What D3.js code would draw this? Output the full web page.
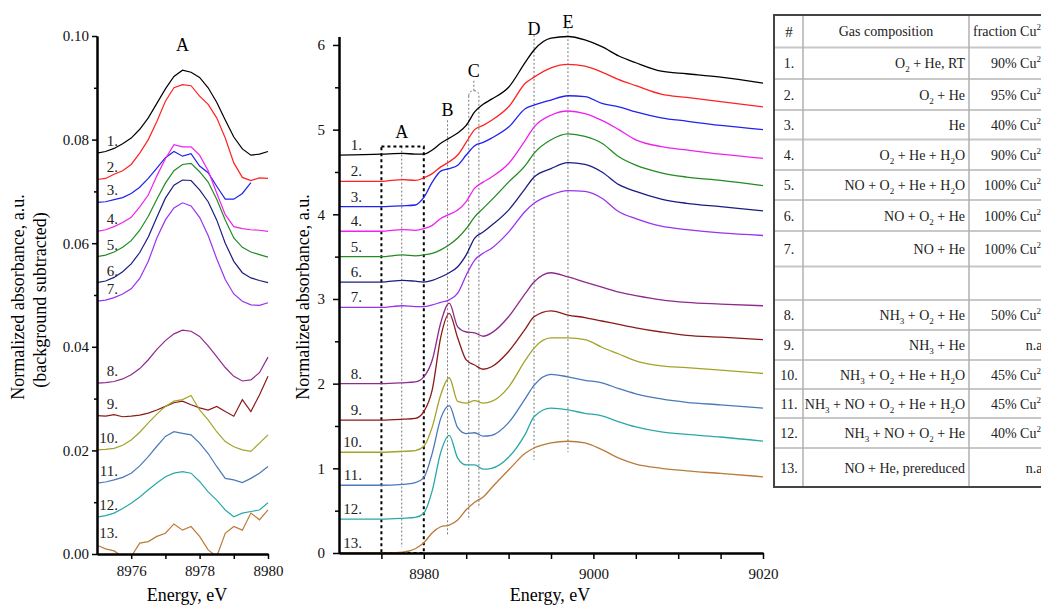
<!DOCTYPE html>
<html>
<head>
<meta charset="utf-8">
<script src="https://cdn.jsdelivr.net/npm/d3@7"></script>
<style>
body { margin: 0; background: #fff; }
svg { display: block; font-family: "Liberation Serif", "Times New Roman", serif; }
text { white-space: pre; }
</style>
</head>
<body>
<script>
var W = 1041, H = 606;

// ---- data ----
var curveNames = ["1.", "2.", "3.", "4.", "5.", "6.", "7.", "8.", "9.", "10.", "11.", "12.", "13."];
var colors = ["#000000", "#ff2222", "#2222ee", "#ee22ee", "#228b22", "#1c1c80", "#9933ee",
              "#8e2a8e", "#8b1a1a", "#a3a32a", "#4a78b8", "#2aa8a8", "#bb7a3a"];

// full XANES spectra (middle panel)
var energyFull = [8970, 8975, 8977.5, 8979, 8980, 8981, 8982, 8983, 8984, 8985, 8986, 8987, 8988,
                  8990, 8992, 8993, 8995, 8997, 8999, 9001, 9003, 9005, 9008, 9011, 9015, 9020];
var full1  = [4.70, 4.71, 4.72, 4.71, 4.71, 4.76, 4.84, 4.90, 4.96, 5.05, 5.21, 5.30, 5.36, 5.50, 5.80, 5.94, 6.08, 6.10, 6.06, 5.98, 5.87, 5.79, 5.69, 5.66, 5.62, 5.55];
var full2  = [4.39, 4.39, 4.41, 4.40, 4.43, 4.48, 4.56, 4.62, 4.70, 4.85, 5.00, 5.05, 5.11, 5.27, 5.55, 5.62, 5.73, 5.77, 5.75, 5.68, 5.59, 5.52, 5.42, 5.38, 5.33, 5.27];
var full3  = [4.09, 4.09, 4.10, 4.11, 4.20, 4.38, 4.51, 4.54, 4.58, 4.70, 4.81, 4.85, 4.90, 5.03, 5.25, 5.29, 5.35, 5.40, 5.39, 5.31, 5.27, 5.21, 5.14, 5.10, 5.05, 5.00];
var full4  = [3.80, 3.80, 3.82, 3.81, 3.83, 3.87, 3.95, 4.00, 4.05, 4.15, 4.31, 4.38, 4.44, 4.60, 4.88, 5.03, 5.17, 5.22, 5.19, 5.11, 5.00, 4.88, 4.80, 4.76, 4.71, 4.66];
var full5  = [3.50, 3.50, 3.52, 3.51, 3.52, 3.54, 3.58, 3.64, 3.72, 3.83, 3.97, 4.07, 4.17, 4.38, 4.58, 4.72, 4.88, 4.95, 4.92, 4.84, 4.68, 4.58, 4.49, 4.44, 4.40, 4.34];
var full6  = [3.20, 3.20, 3.22, 3.21, 3.20, 3.22, 3.26, 3.31, 3.38, 3.52, 3.72, 3.79, 3.87, 4.05, 4.31, 4.44, 4.54, 4.61, 4.59, 4.50, 4.35, 4.27, 4.18, 4.13, 4.09, 4.04];
var full7  = [2.90, 2.90, 2.92, 2.91, 2.91, 2.93, 2.96, 2.99, 3.07, 3.28, 3.46, 3.54, 3.60, 3.79, 4.04, 4.13, 4.23, 4.28, 4.27, 4.19, 4.03, 3.95, 3.86, 3.82, 3.78, 3.75];
var full8  = [2.00, 2.00, 2.01, 2.02, 2.08, 2.28, 2.72, 2.95, 2.67, 2.61, 2.60, 2.56, 2.60, 2.79, 3.07, 3.20, 3.31, 3.26, 3.20, 3.14, 3.08, 3.04, 2.99, 2.96, 2.94, 2.92];
var full9  = [1.57, 1.57, 1.58, 1.59, 1.67, 1.93, 2.55, 2.83, 2.54, 2.28, 2.22, 2.17, 2.20, 2.38, 2.65, 2.79, 2.86, 2.81, 2.78, 2.74, 2.70, 2.66, 2.61, 2.57, 2.55, 2.52];
var full10 = [1.19, 1.19, 1.20, 1.21, 1.26, 1.49, 1.87, 2.07, 1.79, 1.77, 1.80, 1.77, 1.79, 1.96, 2.28, 2.42, 2.54, 2.54, 2.52, 2.43, 2.35, 2.27, 2.21, 2.19, 2.16, 2.12];
var full11 = [0.80, 0.80, 0.81, 0.83, 0.89, 1.18, 1.59, 1.74, 1.48, 1.41, 1.42, 1.38, 1.39, 1.54, 1.83, 1.98, 2.11, 2.08, 2.04, 2.01, 1.94, 1.88, 1.82, 1.78, 1.75, 1.71];
var full12 = [0.40, 0.40, 0.41, 0.42, 0.47, 0.74, 1.19, 1.39, 1.12, 1.04, 1.04, 0.99, 1.00, 1.13, 1.41, 1.61, 1.71, 1.69, 1.65, 1.62, 1.55, 1.49, 1.43, 1.40, 1.37, 1.32];
var full13 = [0.00, 0.00, 0.01, 0.05, 0.12, 0.24, 0.31, 0.33, 0.39, 0.51, 0.60, 0.66, 0.77, 0.98, 1.18, 1.24, 1.30, 1.32, 1.30, 1.22, 1.12, 1.05, 1.00, 0.97, 0.94, 0.90];
var fullSeries = [full1, full2, full3, full4, full5, full6, full7, full8, full9, full10, full11, full12, full13];

// pre-edge region, background subtracted (left panel)
var energyPre = [8975, 8975.25, 8975.5, 8975.75, 8976, 8976.25, 8976.5, 8976.75, 8977, 8977.25, 8977.5,
                 8977.75, 8978, 8978.25, 8978.5, 8978.75, 8979, 8979.25, 8979.5, 8979.75, 8980];
var pre1  = [0.0774, 0.0777, 0.0783, 0.0792, 0.0803, 0.0820, 0.0842, 0.0870, 0.0898, 0.0922, 0.0934, 0.0930, 0.0920, 0.0900, 0.0872, 0.0838, 0.0805, 0.0782, 0.0770, 0.0772, 0.0777];
var pre2  = [0.0723, 0.0725, 0.0733, 0.0740, 0.0752, 0.0774, 0.0800, 0.0835, 0.0874, 0.0900, 0.0906, 0.0904, 0.0884, 0.0868, 0.0842, 0.0803, 0.0755, 0.0727, 0.0721, 0.0726, 0.0725];
var pre3  = [0.0679, 0.0680, 0.0684, 0.0688, 0.0696, 0.0708, 0.0725, 0.0745, 0.0765, 0.0777, 0.0768, 0.0773, 0.0749, 0.0736, 0.0710, 0.0685, 0.0685, 0.0696, 0.0717, null, null];
var pre4  = [0.0623, 0.0626, 0.0632, 0.0640, 0.0650, 0.0670, 0.0693, 0.0730, 0.0763, 0.0790, 0.0786, 0.0786, 0.0770, 0.0740, 0.0697, 0.0655, 0.0632, 0.0628, 0.0626, 0.0625, 0.0623];
var pre5  = [0.0574, 0.0577, 0.0583, 0.0592, 0.0605, 0.0625, 0.0652, 0.0685, 0.0716, 0.0740, 0.0752, 0.0754, 0.0738, 0.0718, 0.0685, 0.0645, 0.0610, 0.0592, 0.0583, 0.0578, 0.0573];
var pre6  = [0.0524, 0.0527, 0.0534, 0.0545, 0.0560, 0.0582, 0.0612, 0.0650, 0.0687, 0.0712, 0.0722, 0.0721, 0.0703, 0.0680, 0.0645, 0.0600, 0.0565, 0.0543, 0.0533, 0.0528, 0.0524];
var pre7  = [0.0488, 0.0490, 0.0495, 0.0502, 0.0512, 0.0532, 0.0565, 0.0610, 0.0645, 0.0668, 0.0678, 0.0672, 0.0650, 0.0615, 0.0570, 0.0530, 0.0502, 0.0488, 0.0481, 0.0480, 0.0485];
var pre8  = [0.0330, 0.0331, 0.0333, 0.0338, 0.0346, 0.0358, 0.0375, 0.0395, 0.0412, 0.0425, 0.0432, 0.0430, 0.0420, 0.0402, 0.0381, 0.0360, 0.0343, 0.0334, 0.0336, 0.0350, 0.0380];
var pre9  = [0.0267, 0.0266, 0.0269, 0.0265, 0.0266, 0.0268, 0.0272, 0.0278, 0.0285, 0.0292, 0.0295, 0.0288, 0.0282, 0.0278, 0.0285, 0.0275, 0.0266, 0.0298, 0.0275, 0.0307, 0.0343];
var pre10 = [0.0201, 0.0202, 0.0204, 0.0210, 0.0220, 0.0235, 0.0253, 0.0270, 0.0285, 0.0295, 0.0298, 0.0306, 0.0278, 0.0259, 0.0236, 0.0217, 0.0207, 0.0201, 0.0198, 0.0214, 0.0230];
var pre11 = [0.0137, 0.0139, 0.0143, 0.0148, 0.0156, 0.0170, 0.0188, 0.0208, 0.0227, 0.0236, 0.0233, 0.0230, 0.0214, 0.0194, 0.0169, 0.0146, 0.0143, 0.0138, 0.0146, 0.0156, 0.0169];
var pre12 = [0.0071, 0.0074, 0.0079, 0.0088, 0.0098, 0.0110, 0.0124, 0.0137, 0.0149, 0.0156, 0.0159, 0.0156, 0.0140, 0.0120, 0.0104, 0.0085, 0.0072, 0.0079, 0.0082, 0.0085, 0.0099];
var pre13 = [0.0017, 0.0010, 0.0006, -0.0005, -0.0005, 0.0021, 0.0024, 0.0034, 0.0040, 0.0058, 0.0046, 0.0053, 0.0034, 0.0008, -0.0005, 0.0040, 0.0053, 0.0046, 0.0079, 0.0066, 0.0085];
var preSeries = [pre1, pre2, pre3, pre4, pre5, pre6, pre7, pre8, pre9, pre10, pre11, pre12, pre13];

// feature markers in the middle panel
var markNames = ["A", "B", "C", "D", "E"];
var markEnergy = [8977.4, 8982.8, 8985.9, 8993.0, 8997.0];
var markLabelValue = [4.97, 5.23, 5.70, 6.19, 6.28];
var guideEnergy = [8977.4, 8982.8, 8985.3, 8986.5, 8993.0, 8997.0];
var guideTop = [4.80, 5.11, 5.40, 5.40, 6.12, 6.21];
var guideBottom = [0.07, 0.21, 0.39, 0.53, 1.10, 1.19];
var boxA = [8975, 8980, 0, 4.8]; // energy from, to, value from, to

// table
var tableHeader = ["#", "Gas composition", "fraction Cu^2+"];
var rowNums = ["1.", "2.", "3.", "4.", "5.", "6.", "7.", "", "8.", "9.", "10.", "11.", "12.", "13."];
var gasComp = ["O_2 + He, RT", "O_2 + He", "He", "O_2 + He + H_2O", "NO + O_2 + He + H_2O", "NO + O_2 + He",
               "NO + He", "", "NH_3 + O_2 + He", "NH_3 + He", "NH_3 + O_2 + He + H_2O",
               "NH_3 + NO + O_2 + He + H_2O", "NH_3 + NO + O_2 + He", "NO + He, prereduced"];
var fractionCu = ["90% Cu^2+", "95% Cu^2+", "40% Cu^2+", "90% Cu^2+", "100% Cu^2+", "100% Cu^2+", "100% Cu^2+",
                  "", "50% Cu^2+", "n.a.", "45% Cu^2+", "45% Cu^2+", "40% Cu^2+", "n.a."];

// ---- drawing ----
var svg = d3.select("body").append("svg")
    .attr("width", W)
    .attr("height", H);

svg.append("rect").attr("width", W).attr("height", H).attr("fill", "#fff");

function styleAxis(g, size) {
    g.attr("font-family", null).attr("font-size", size);
    g.selectAll("text").attr("fill", "#111");
    g.selectAll("line").attr("stroke", "#000").attr("stroke-width", 1.5);
    g.select(".domain").attr("stroke", "#000").attr("stroke-width", 2);
}

// left panel
var xL = d3.scaleLinear().domain([8975, 8980]).range([97, 268]);
var yL = d3.scaleLinear().domain([0, 0.10]).range([554, 36]);

svg.append("clipPath").attr("id", "clipL")
    .append("rect").attr("x", 97).attr("y", 30).attr("width", 175).attr("height", 524);

var lineL = d3.line()
    .defined(function (d) { return d[1] !== null; })
    .x(function (d) { return xL(d[0]); })
    .y(function (d) { return yL(d[1]); });

var gL = svg.append("g").attr("clip-path", "url(#clipL)");
preSeries.forEach(function (s, i) {
    gL.append("path")
        .datum(energyPre.map(function (e, j) { return [e, s[j]]; }))
        .attr("d", lineL)
        .attr("fill", "none")
        .attr("stroke", colors[i])
        .attr("stroke-width", 1.2);
});

svg.append("g")
    .attr("transform", "translate(97,0)")
    .call(d3.axisLeft(yL).tickValues([0.01, 0.03, 0.05, 0.07, 0.09]).tickSize(3).tickFormat("").tickSizeOuter(0))
    .call(styleAxis, 15);
svg.append("g")
    .attr("transform", "translate(97,0)")
    .call(d3.axisLeft(yL).tickValues([0, 0.02, 0.04, 0.06, 0.08, 0.10]).tickSize(5).tickPadding(3)
        .tickFormat(d3.format(".2f")).tickSizeOuter(0))
    .call(styleAxis, 15);
svg.append("g")
    .attr("transform", "translate(0,554)")
    .call(d3.axisBottom(xL).tickValues([8977, 8979]).tickSize(5).tickFormat("").tickSizeOuter(0))
    .call(styleAxis, 15);
svg.append("g")
    .attr("transform", "translate(0,554)")
    .call(d3.axisBottom(xL).tickValues([8976, 8978, 8980]).tickSize(5).tickPadding(6)
        .tickFormat(d3.format("d")).tickSizeOuter(0))
    .call(styleAxis, 15);

preSeries.forEach(function (s, i) {
    svg.append("text")
        .attr("x", xL(8975) + 21)
        .attr("y", yL(s[0]) - 7)
        .attr("text-anchor", "end")
        .attr("font-size", 15)
        .attr("fill", "#222")
        .text(curveNames[i]);
});

svg.append("text").attr("x", xL(8977.5)).attr("y", 51)
    .attr("text-anchor", "middle").attr("font-size", 18).text("A");

svg.append("text").attr("transform", "translate(24,297) rotate(-90)")
    .attr("text-anchor", "middle").attr("font-size", 18)
    .text("Normalized absorbance, a.u.");
svg.append("text").attr("transform", "translate(46,300) rotate(-90)")
    .attr("text-anchor", "middle").attr("font-size", 18)
    .text("(background subtracted)");
svg.append("text").attr("x", 187).attr("y", 601)
    .attr("text-anchor", "middle").attr("font-size", 18)
    .text("Energy, eV");

// middle panel
var xM = d3.scaleLinear().domain([8970, 9020]).range([339, 763]);
var yM = d3.scaleLinear().domain([0, 6.1]).range([553, 36.5]);

var lineM = d3.line()
    .x(function (d) { return xM(d[0]); })
    .y(function (d) { return yM(d[1]); })
    .curve(d3.curveMonotoneX);

// guide lines
var gGuide = svg.append("g")
    .attr("fill", "none")
    .attr("stroke", "#777")
    .attr("stroke-width", 1)
    .attr("stroke-dasharray", "2,2");
guideEnergy.forEach(function (e, i) {
    gGuide.append("line")
        .attr("x1", xM(e)).attr("x2", xM(e))
        .attr("y1", yM(guideTop[i])).attr("y2", yM(guideBottom[i]));
});
// bracket over the C pair
var cl = xM(guideEnergy[2]), cr = xM(guideEnergy[3]), ct = yM(guideTop[2]), cm = (cl + cr) / 2;
gGuide.append("path")
    .attr("d", "M" + cl + "," + ct + " Q" + cl + "," + (ct - 5) + " " + cm + "," + (ct - 5) +
        " Q" + cr + "," + (ct - 5) + " " + cr + "," + ct +
        " M" + cm + "," + (ct - 5) + " L" + cm + "," + (ct - 15));

// box around pre-edge A
svg.append("rect")
    .attr("x", xM(boxA[0]))
    .attr("y", yM(boxA[3]))
    .attr("width", xM(boxA[1]) - xM(boxA[0]))
    .attr("height", yM(boxA[2]) - yM(boxA[3]))
    .attr("fill", "none")
    .attr("stroke", "#000")
    .attr("stroke-width", 2)
    .attr("stroke-dasharray", "3,3");

fullSeries.forEach(function (s, i) {
    svg.append("path")
        .datum(energyFull.map(function (e, j) { return [e, s[j]]; }))
        .attr("d", lineM)
        .attr("fill", "none")
        .attr("stroke", colors[i])
        .attr("stroke-width", 1.3);
});

svg.append("g")
    .attr("transform", "translate(339,0)")
    .call(d3.axisLeft(yM).tickValues([0.5, 1.5, 2.5, 3.5, 4.5, 5.5]).tickSize(4).tickFormat("").tickSizeOuter(0))
    .call(styleAxis, 15);
svg.append("g")
    .attr("transform", "translate(339,0)")
    .call(d3.axisLeft(yM).tickValues([0, 1, 2, 3, 4, 5, 6]).tickSize(6).tickPadding(8)
        .tickFormat(d3.format("d")).tickSizeOuter(0))
    .call(styleAxis, 15);
svg.append("g")
    .attr("transform", "translate(0,553)")
    .call(d3.axisBottom(xM).tickValues([8975, 8985, 8990, 8995, 9005, 9010, 9015]).tickSize(6).tickFormat("").tickSizeOuter(0))
    .call(styleAxis, 15);
svg.append("g")
    .attr("transform", "translate(0,553)")
    .call(d3.axisBottom(xM).tickValues([8980, 9000, 9020]).tickSize(6).tickPadding(9)
        .tickFormat(d3.format("d")).tickSizeOuter(0))
    .call(styleAxis, 15);

fullSeries.forEach(function (s, i) {
    svg.append("text")
        .attr("x", xM(8972.7))
        .attr("y", yM(s[0]) - 5)
        .attr("text-anchor", "end")
        .attr("font-size", 15)
        .attr("fill", "#222")
        .text(curveNames[i]);
});

markNames.forEach(function (m, i) {
    svg.append("text")
        .attr("x", xM(markEnergy[i]))
        .attr("y", yM(markLabelValue[i]))
        .attr("dy", "0.35em")
        .attr("text-anchor", "middle")
        .attr("font-size", 18)
        .text(m);
});

svg.append("text").attr("transform", "translate(309,297) rotate(-90)")
    .attr("text-anchor", "middle").attr("font-size", 18)
    .text("Normalized absorbance, a.u.");
svg.append("text").attr("x", 550).attr("y", 601)
    .attr("text-anchor", "middle").attr("font-size", 18)
    .text("Energy, eV");

// ---- table ----
var rowEdges = [15, 47.5, 79, 110, 139.5, 170, 200, 231, 266.5, 300, 330, 360, 389, 418, 448, 487];
var colX = [774, 803, 969];
var tX0 = 774, tX1 = 1060;

function richText(t, str) {
    var shift = 0;
    str.split(/(_\d|\^\d\+)/).forEach(function (p) {
        if (!p) return;
        var target = 0, small = false, txt = p;
        if (p[0] === "_") { target = 4; small = true; txt = p.slice(1); }
        else if (p[0] === "^") { target = -6; small = true; txt = p.slice(1); }
        var ts = t.append("tspan").attr("dy", target - shift).text(txt);
        if (small) ts.attr("font-size", 9);
        shift = target;
    });
}

var gT = svg.append("g");
rowEdges.slice(1, -1).forEach(function (y) {
    gT.append("line").attr("x1", tX0).attr("x2", tX1).attr("y1", y).attr("y2", y)
        .attr("stroke", "#c8c8c8").attr("stroke-width", 2);
});
[colX[1], colX[2]].forEach(function (x) {
    gT.append("line").attr("x1", x).attr("x2", x)
        .attr("y1", rowEdges[0]).attr("y2", rowEdges[rowEdges.length - 1])
        .attr("stroke", "#b0b0b0").attr("stroke-width", 1.5);
});
gT.append("path")
    .attr("d", "M" + tX1 + "," + rowEdges[0] + " L" + tX0 + "," + rowEdges[0] +
        " L" + tX0 + "," + rowEdges[rowEdges.length - 1] + " L" + tX1 + "," + rowEdges[rowEdges.length - 1])
    .attr("fill", "none").attr("stroke", "#444").attr("stroke-width", 2);

function rowMid(i) { return (rowEdges[i] + rowEdges[i + 1]) / 2; }

gT.append("text").attr("x", 789).attr("y", rowMid(0)).attr("dy", "0.35em")
    .attr("text-anchor", "middle").attr("font-size", 15).attr("fill", "#222").text(tableHeader[0]);
gT.append("text").attr("x", 886).attr("y", rowMid(0)).attr("dy", "0.35em")
    .attr("text-anchor", "middle").attr("font-size", 14).attr("fill", "#222").text(tableHeader[1]);
richText(gT.append("text").attr("x", 1046).attr("y", rowMid(0) + 5)
    .attr("text-anchor", "end").attr("font-size", 14).attr("fill", "#222"), tableHeader[2]);

rowNums.forEach(function (n, i) {
    var y = rowMid(i + 1) + 5;
    gT.append("text").attr("x", 789).attr("y", y)
        .attr("text-anchor", "middle").attr("font-size", 14).attr("fill", "#222").text(n);
    richText(gT.append("text").attr("x", 965).attr("y", y)
        .attr("text-anchor", "end").attr("font-size", 14).attr("fill", "#222"), gasComp[i]);
    richText(gT.append("text").attr("x", 1046).attr("y", y)
        .attr("text-anchor", "end").attr("font-size", 14).attr("fill", "#222"), fractionCu[i]);
});
</script>
</body>
</html>
